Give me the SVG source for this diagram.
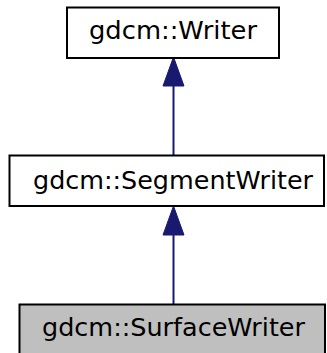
<svg xmlns="http://www.w3.org/2000/svg" width="327" height="353" viewBox="0 0 327 353">
<style>
.box{fill:#ffffff;stroke:#000000;stroke-width:2}
.cur{fill:#bfbfbf;stroke:#000000;stroke-width:2}
.lbl{font-family:"DejaVu Sans",sans-serif;font-size:24px;fill:#000000;text-anchor:middle}
.edge{stroke:#191970;stroke-width:2;fill:none}
.head{fill:#191970;stroke:#191970;stroke-width:1}
</style>
<rect width="327" height="353" fill="#ffffff"/>
<g id="connectors">
<line class="edge" x1="173.5" y1="86" x2="173.5" y2="155"/>
<polygon class="head" points="173.5,57 163,86 184,86"/>
<line class="edge" x1="173.5" y1="235" x2="173.5" y2="304"/>
<polygon class="head" points="173.5,206 163,235 184,235"/>
</g>
<g id="node-writer">
<rect class="box" x="67" y="7.5" width="212" height="50.5"/>
<text class="lbl" x="173" y="39" textLength="168" lengthAdjust="spacingAndGlyphs">gdcm::Writer</text>
</g>
<g id="node-segmentwriter">
<rect class="box" x="9.5" y="155.5" width="314.5" height="50.5"/>
<text class="lbl" x="173" y="189" textLength="280" lengthAdjust="spacingAndGlyphs">gdcm::SegmentWriter</text>
</g>
<g id="node-surfacewriter">
<rect class="cur" x="19.5" y="304.5" width="305.5" height="56"/>
<text class="lbl" x="173.5" y="336" textLength="263" lengthAdjust="spacingAndGlyphs">gdcm::SurfaceWriter</text>
</g>
</svg>
